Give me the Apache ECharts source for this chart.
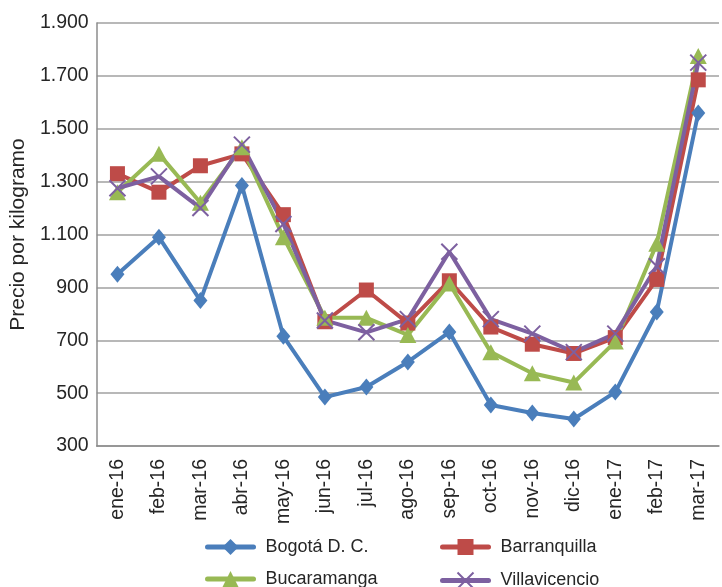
<!DOCTYPE html>
<html>
<head>
<meta charset="utf-8">
<script src="https://cdn.jsdelivr.net/npm/echarts@6/dist/echarts.min.js"></script>
<style>html,body{margin:0;padding:0;background:#fff}#c{width:722px;height:587px}</style>
</head>
<body>
<div id="c"></div>
<script>
var categories = ['ene-16','feb-16','mar-16','abr-16','may-16','jun-16','jul-16','ago-16','sep-16','oct-16','nov-16','dic-16','ene-17','feb-17','mar-17'];
var bogota = [950,1090,850,1285,715,485,523,618,731,455,425,402,504,807,1560];
var barranquilla = [1330,1260,1360,1405,1175,770,890,765,925,750,685,650,710,930,1685];
var bucaramanga = [1260,1405,1220,1430,1090,785,785,720,915,655,575,540,695,1065,1775];
var villavicencio = [1275,1320,1200,1440,1140,775,730,780,1035,780,725,655,725,980,1750];
var seriesNames = ['Bogotá D. C.','Barranquilla','Bucaramanga','Villavicencio'];
var yTicks = {min:300, max:1900, interval:200};

var txt = '#262626';
var font = 'Liberation Sans, Arial, sans-serif';
var colors = ['#4A7EBB','#BE4B48','#98B954','#7D60A0'];
var xPath = 'path://M0,0L10,10M10,0L0,10';

function fmt(v){
  if (v >= 1000) { return Math.floor(v/1000) + '.' + String(v%1000).padStart(3,'0'); }
  return String(v);
}
function mk(name, data, color, symbol, size, extra){
  var s = {
    name: name, type: 'line', data: data,
    symbol: symbol, symbolSize: size,
    lineStyle: {color: color, width: 4},
    itemStyle: {color: color},
    emphasis: {disabled: true},
    animation: false
  };
  if (extra) { s.itemStyle = extra; }
  return s;
}
function lg(name, left, top){
  return {
    data: [name], left: left, top: top,
    itemWidth: 46, itemHeight: 20, itemGap: 0,
    lineStyle: {width: 5, cap: 'round'},
    textStyle: {color: txt, fontSize: 18, fontFamily: font, padding: [0,0,0,7]},
    selectedMode: false
  };
}

var chart = echarts.init(document.getElementById('c'));
chart.setOption({
  backgroundColor: '#fff',
  animation: false,
  grid: {left: 94, right: 3, top: 23, bottom: 141},
  legend: [
    lg(seriesNames[0], 200, 533),
    lg(seriesNames[1], 435, 533),
    lg(seriesNames[2], 200, 565),
    lg(seriesNames[3], 435, 565)
  ],
  xAxis: {
    type: 'category', data: categories, boundaryGap: true,
    axisLine: {lineStyle: {color: '#8c8c8c', width: 1.5}},
    axisTick: {show: false},
    axisLabel: {rotate: 90, color: txt, fontSize: 19.5, fontFamily: font, margin: 13, interval: 0}
  },
  yAxis: {
    type: 'value', min: yTicks.min, max: yTicks.max, interval: yTicks.interval,
    name: 'Precio por kilogramo', nameLocation: 'middle', nameGap: 65,
    nameTextStyle: {color: txt, fontSize: 21, fontFamily: font},
    axisLine: {show: true, lineStyle: {color: '#8c8c8c', width: 1.5}},
    axisTick: {show: false},
    splitLine: {lineStyle: {color: '#a0a0a0', width: 1.5}},
    axisLabel: {color: txt, fontSize: 19.5, fontFamily: font, margin: 8, formatter: fmt}
  },
  series: [
    mk(seriesNames[0], bogota, colors[0], 'diamond', [14,17]),
    mk(seriesNames[1], barranquilla, colors[1], 'rect', 15),
    mk(seriesNames[2], bucaramanga, colors[2], 'triangle', [17,16]),
    mk(seriesNames[3], villavicencio, colors[3], xPath, 16, {color: 'none', borderColor: colors[3], borderWidth: 2})
  ]
});
</script>
</body>
</html>
